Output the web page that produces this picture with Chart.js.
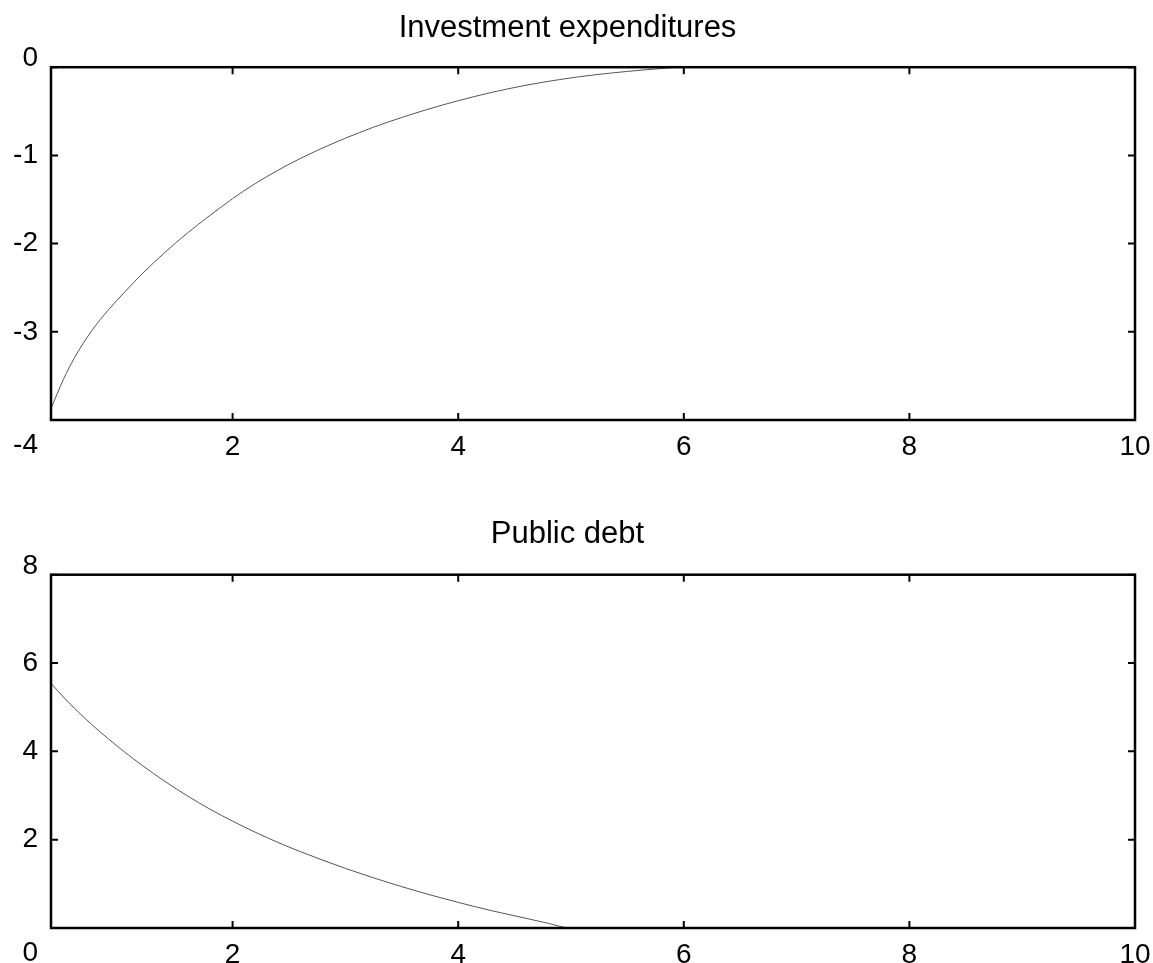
<!DOCTYPE html>
<html lang="en">
<head>
    <meta charset="UTF-8">
    <title>Investment expenditures / Public debt</title>
    <script src="https://cdn.jsdelivr.net/npm/chart.js"></script>
    <style>
        body { margin: 0; background: #fff; }
        .wrap { position: relative; width: 1153px; height: 963px; }
        #topBox { position: absolute; left: 0; top: 0; width: 1153px; height: 480px; }
        #botBox { position: absolute; left: 0; top: 480px; width: 1153px; height: 483px; }
    </style>
</head>
<body>
    <div class="wrap">
        <div id="topBox"><canvas id="investChart"></canvas></div>
        <div id="botBox"><canvas id="debtChart"></canvas></div>
    </div>

    <script>
        // x range of both panels
        const xMin = 0.39;
        const xMax = 10;
        const xTicks = [2, 4, 6, 8, 10];

        // Investment expenditures (top panel)
        const investX = [0.39, 0.5, 0.6, 0.75, 0.9, 1.05, 1.2, 1.4, 1.6, 1.8, 2.0, 2.2, 2.4, 2.6, 2.8, 3.0, 3.25, 3.5, 3.75, 4.0, 4.3, 4.6, 4.9, 5.2, 5.5, 5.8, 6.0, 10];
        const investY = [-3.87, -3.54, -3.29, -2.99, -2.75, -2.54, -2.34, -2.10, -1.88, -1.68, -1.49, -1.32, -1.17, -1.035, -0.915, -0.805, -0.68, -0.57, -0.47, -0.38, -0.285, -0.205, -0.14, -0.088, -0.048, -0.015, 0, 0];
        const investTicks = [-4, -3, -2, -1, 0];

        // Public debt (bottom panel)
        const debtX = [0.39, 0.5, 0.6, 0.75, 0.9, 1.05, 1.2, 1.4, 1.6, 1.8, 2.0, 2.2, 2.4, 2.6, 2.8, 3.0, 3.25, 3.5, 3.75, 4.0, 4.3, 4.6, 4.8, 5.0, 10];
        const debtY = [5.54, 5.23, 4.97, 4.61, 4.28, 3.97, 3.68, 3.32, 2.99, 2.69, 2.42, 2.17, 1.94, 1.73, 1.535, 1.35, 1.135, 0.935, 0.75, 0.58, 0.39, 0.22, 0.105, 0, 0];
        const debtTicks = [0, 2, 4, 6, 8];

        const FONT = "'Liberation Sans', Arial, Helvetica, sans-serif";
        const TICK_SIZE = 28;

        // frame, inward ticks and the shifted end labels of the y axis
        const framePlugin = {
            id: 'frame',
            afterDraw(chart) {
                const ctx = chart.ctx;
                const a = chart.chartArea;
                const xs = chart.scales.x, ys = chart.scales.y;
                ctx.save();
                ctx.strokeStyle = '#000';
                ctx.lineWidth = 2;
                ctx.beginPath();
                xs.ticks.forEach(t => {
                    const px = xs.getPixelForValue(t.value);
                    ctx.moveTo(px, a.top); ctx.lineTo(px, a.top + 7);
                    ctx.moveTo(px, a.bottom); ctx.lineTo(px, a.bottom - 7);
                });
                ys.ticks.forEach(t => {
                    const py = ys.getPixelForValue(t.value);
                    ctx.moveTo(a.left, py); ctx.lineTo(a.left + 7, py);
                    ctx.moveTo(a.right, py); ctx.lineTo(a.right - 7, py);
                });
                ctx.stroke();
                ctx.lineWidth = 2.5;
                ctx.strokeRect(a.left, a.top, a.right - a.left, a.bottom - a.top);

                ctx.fillStyle = '#000';
                ctx.font = TICK_SIZE + 'px ' + FONT;
                ctx.textAlign = 'right';
                ctx.textBaseline = 'alphabetic';
                ctx.fillText(String(ys.max), a.left - 13, ys.getPixelForValue(ys.max) - 1);
                ctx.textBaseline = 'top';
                ctx.fillText(String(ys.min), a.left - 13, ys.getPixelForValue(ys.min) + 11);
                ctx.restore();
            }
        };

        function makeChart(id, title, xs, ys, yTicks, opts) {
            const points = xs.map((x, i) => ({ x: x, y: ys[i] }));
            return new Chart(document.getElementById(id), {
                type: 'line',
                data: {
                    datasets: [{
                        data: points,
                        borderColor: '#555',
                        borderWidth: 1,
                        pointRadius: 0,
                        cubicInterpolationMode: 'monotone',
                        clip: false
                    }]
                },
                options: {
                    responsive: true,
                    maintainAspectRatio: false,
                    animation: false,
                    events: [],
                    layout: { padding: { left: 0, right: 18, top: 0, bottom: 0 } },
                    plugins: {
                        legend: { display: false },
                        tooltip: { enabled: false },
                        title: {
                            display: true,
                            text: title,
                            color: '#000',
                            font: { family: FONT, size: 31, weight: 'normal', lineHeight: 1.2 },
                            padding: opts.titlePad
                        }
                    },
                    scales: {
                        x: {
                            type: 'linear',
                            min: xMin,
                            max: xMax,
                            afterBuildTicks: s => { s.ticks = xTicks.map(v => ({ value: v })); },
                            afterFit: s => {
                                s.height = opts.xHeight;
                                s.paddingLeft = 0;
                                s.paddingRight = 0;
                            },
                            grid: { display: false, drawTicks: false },
                            border: { display: false },
                            ticks: { color: '#000', padding: 10, maxRotation: 0, font: { family: FONT, size: TICK_SIZE } }
                        },
                        y: {
                            type: 'linear',
                            min: yTicks[0],
                            max: yTicks[yTicks.length - 1],
                            afterBuildTicks: s => { s.ticks = yTicks.map(v => ({ value: v })); },
                            afterFit: s => { s.width = 51; },
                            grid: { display: false, drawTicks: false },
                            border: { display: false },
                            ticks: {
                                color: '#000',
                                padding: 13,
                                font: { family: FONT, size: TICK_SIZE },
                                callback: v => (v === yTicks[0] || v === yTicks[yTicks.length - 1]) ? '' : String(v)
                            }
                        }
                    }
                },
                plugins: [framePlugin]
            });
        }

        makeChart('investChart', 'Investment expenditures', investX, investY, investTicks,
            { titlePad: { top: 10, bottom: 20 }, xHeight: 60 });
        makeChart('debtChart', 'Public debt', debtX, debtY, debtTicks,
            { titlePad: { top: 36, bottom: 21.5 }, xHeight: 35 });
    </script>
</body>
</html>
